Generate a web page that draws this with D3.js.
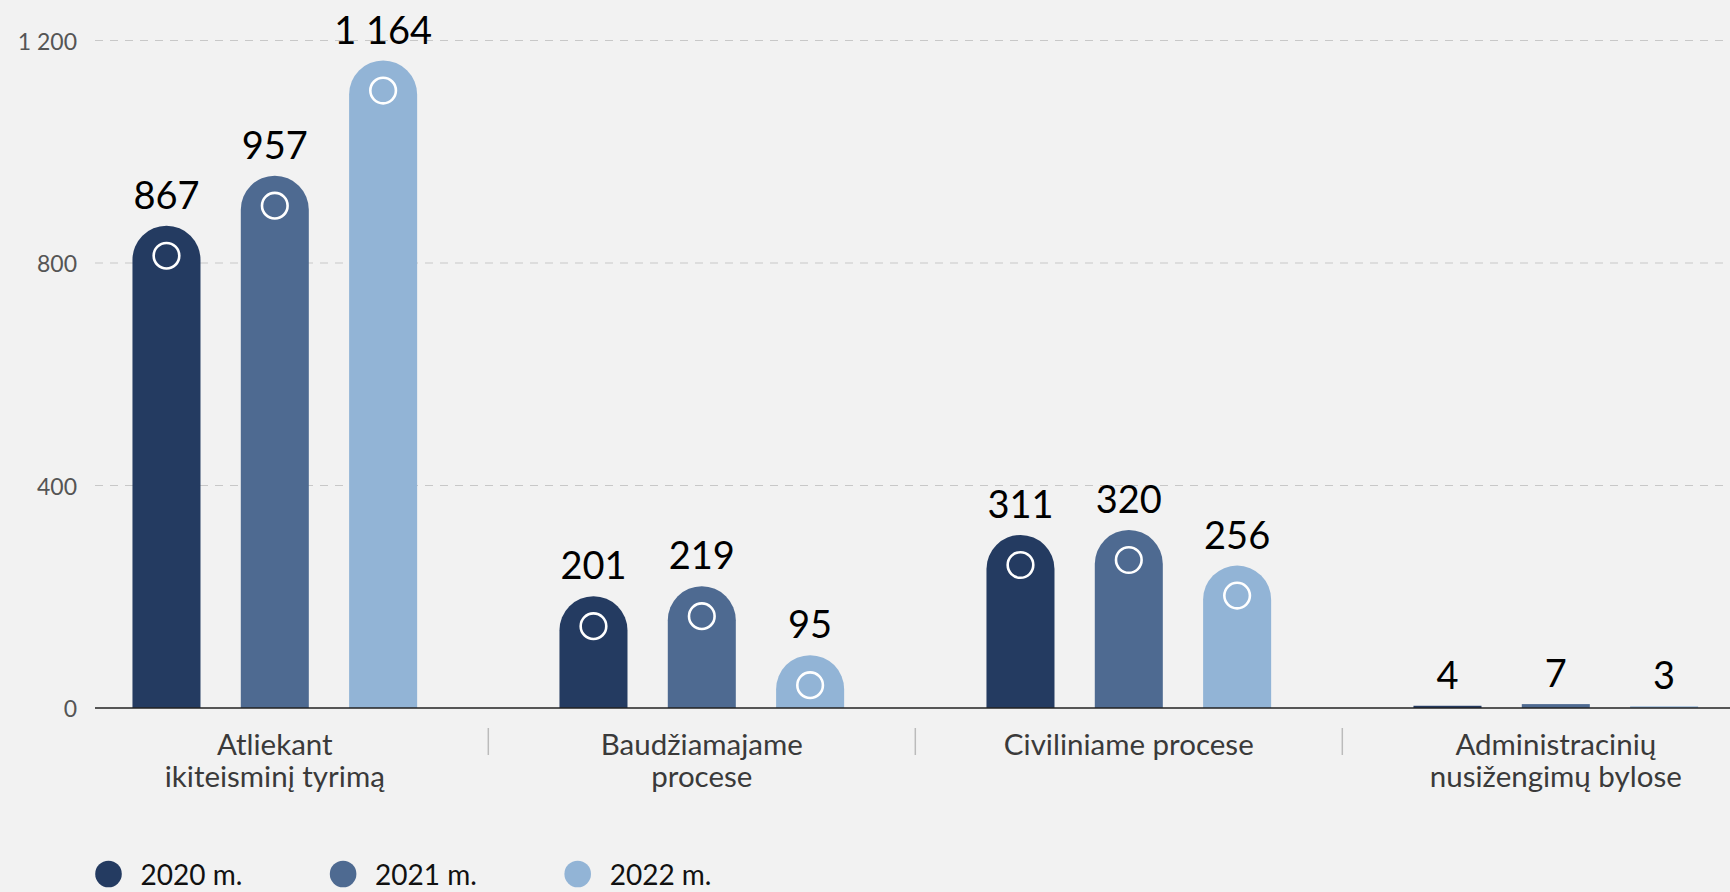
<!DOCTYPE html>
<html>
<head>
<meta charset="utf-8">
<script src="https://cdn.jsdelivr.net/npm/d3@7"></script>
<style>
  html, body { margin: 0; padding: 0; background: #f2f2f2; }
  svg { display: block; font-family: Lato, "Open Sans", sans-serif; }
</style>
</head>
<body>
<svg id="chart" width="1730" height="892"></svg>
<script>
const categories = [
  ["Atliekant", "ikiteisminį tyrimą"],
  ["Baudžiamajame", "procese"],
  ["Civiliniame procese"],
  ["Administracinių", "nusižengimų bylose"]
];
const seriesNames = ["2020 m.", "2021 m.", "2022 m."];
const values2020 = [867, 201, 311, 4];
const values2021 = [957, 219, 320, 7];
const values2022 = [1164, 95, 256, 3];
const yTicks = [0, 400, 800, 1200];
const colors = ["#243b61", "#4e6a91", "#92b4d6"];

const series = [values2020, values2021, values2022];
const svg = d3.select("#chart");
const W = 1730, H = 892;

svg.append("rect").attr("width", W).attr("height", H).attr("fill", "#f2f2f2");

const plotLeft = 95, plotRight = W;
const y = d3.scaleLinear().domain([0, 1200]).range([708, 40.5]);
const x0 = d3.scaleBand().domain(d3.range(categories.length)).range([61.3, 1769.3]).padding(0);
const x1 = d3.scaleBand().domain(d3.range(series.length)).range([0, x0.bandwidth()])
  .paddingInner(0.372).paddingOuter(0.657);

const fmt = d3.formatLocale({decimal: ",", thousands: " ", grouping: [3], currency: ["", ""]}).format(",d");

// gridlines
svg.append("g").selectAll("line").data(yTicks.filter(d => d > 0)).join("line")
  .attr("x1", plotLeft).attr("x2", plotRight)
  .attr("y1", d => y(d)).attr("y2", d => y(d))
  .attr("stroke", "#c8c8c8").attr("stroke-width", 1).attr("stroke-dasharray", "8,7");

// y tick labels
svg.append("g").selectAll("text").data(yTicks).join("text")
  .attr("x", 77).attr("y", d => y(d))
  .attr("text-anchor", "end").attr("dominant-baseline", "central")
  .attr("font-size", 23).attr("fill", "#555")
  .text(d => fmt(d));

// bars
function barPath(x, w, top, bottom) {
  const h = bottom - top;
  const r = Math.min(w / 2, h);
  if (h <= 0) return "";
  return `M${x},${bottom} L${x},${top + r} A${w/2},${r} 0 0 1 ${x + w},${top + r} L${x + w},${bottom} Z`;
}

const groups = svg.append("g").selectAll("g").data(categories).join("g")
  .attr("transform", (d, i) => `translate(${x0(i)},0)`);

groups.each(function(cat, ci) {
  const g = d3.select(this);
  series.forEach((vals, si) => {
    const v = vals[ci];
    const bx = x1(si), bw = x1.bandwidth();
    const top = y(v), bottom = y(0);
    const h = bottom - top;
    if (h > 10) {
      g.append("path").attr("d", barPath(bx, bw, top, bottom)).attr("fill", colors[si]);
    } else {
      g.append("rect").attr("x", bx).attr("y", top).attr("width", bw).attr("height", h).attr("fill", colors[si]);
    }
    if (h > 45) {
      g.append("circle").attr("cx", bx + bw / 2).attr("cy", top + 30).attr("r", 12.8)
        .attr("fill", "none").attr("stroke", "#fff").attr("stroke-width", 2.6);
    }
    g.append("text").attr("x", bx + bw / 2).attr("y", top - 17)
      .attr("text-anchor", "middle").attr("font-size", 38).attr("fill", "#000")
      .text(fmt(v));
  });
});

// baseline axis
svg.append("line").attr("x1", plotLeft).attr("x2", plotRight)
  .attr("y1", y(0)).attr("y2", y(0)).attr("stroke", "#222").attr("stroke-width", 1.5);

// separators
svg.append("g").selectAll("line").data(d3.range(1, categories.length)).join("line")
  .attr("x1", d => x0(d)).attr("x2", d => x0(d))
  .attr("y1", 728).attr("y2", 755)
  .attr("stroke", "#bbb").attr("stroke-width", 1.5);

// category labels
const catG = svg.append("g").selectAll("text").data(categories).join("text")
  .attr("x", (d, i) => x0(i) + x0.bandwidth() / 2)
  .attr("y", 755)
  .attr("text-anchor", "middle").attr("font-size", 29.5).attr("fill", "#3a3a3a");
catG.selectAll("tspan").data(d => d).join("tspan")
  .attr("x", function() { return d3.select(this.parentNode).attr("x"); })
  .attr("dy", (d, i) => i === 0 ? 0 : 32)
  .text(d => d);

// legend
const legendX = d3.scalePoint().domain(seriesNames).range([108.5, 577.7]);
const leg = svg.append("g").selectAll("g").data(seriesNames).join("g")
  .attr("transform", d => `translate(${legendX(d)},874)`);
leg.append("circle").attr("r", 13.3).attr("fill", (d, i) => colors[i]);
leg.append("text").attr("x", 32).attr("dominant-baseline", "central")
  .attr("font-size", 28).attr("fill", "#111").text(d => d);
</script>
</body>
</html>
